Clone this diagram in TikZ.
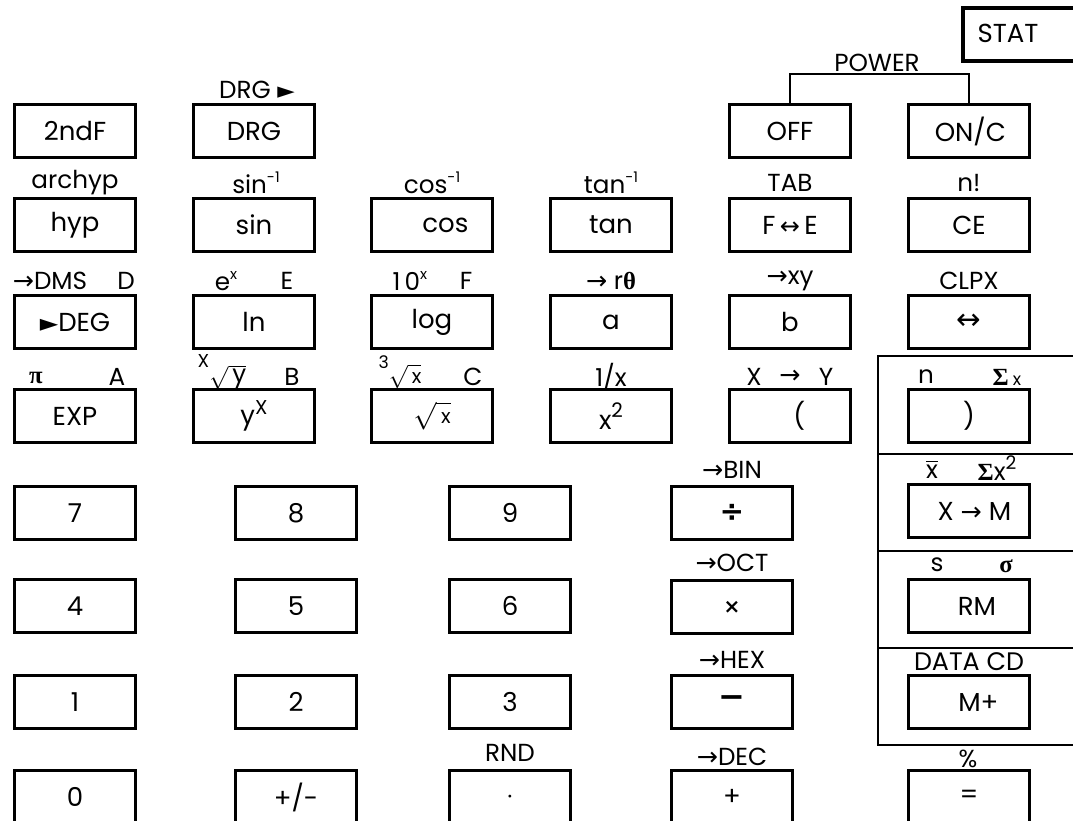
\documentclass[tikz,border=0pt]{standalone}
\usepackage{amsmath}
\usepackage{fontspec}
\setmainfont{Poppins}
\newfontfamily\sym{DejaVu Sans}
\newfontfamily\grk{Liberation Serif}
\newcommand\keyfont{\fontsize{19.5}{22}\selectfont}
\newcommand\labfont{\fontsize{18.5}{21}\selectfont}
\newcommand\supx[1]{\raisebox{0.85ex}{\fontsize{11}{12}\selectfont #1}}
\newcommand\arr{{\sym\fontsize{19}{19}\selectfont →}}
\begin{document}
\begin{tikzpicture}[x=0.75pt,y=-0.75pt,
  keybox/.style={draw,line width=2.4pt,minimum width=90.75pt,minimum height=39.75pt,inner sep=0pt,font=\keyfont},
  lab/.style={inner sep=0pt,font=\labfont},
  thinline/.style={line width=0.8pt},
  panel/.style={line width=1.1pt}]
\useasboundingbox (0,0) rectangle (1073,820);
\clip (0,0) rectangle (1073,820);
% ---- row 0
\node[keybox] (k2ndf) at (75,131) {2ndF};
\node[keybox] (kdrg) at (254,131) {DRG};
\node[keybox] (koff) at (790,131) {OFF};
\node[keybox] (konc) at (969,131) {\hspace*{2pt}ON/C};
\node[lab] (ldrg) at (257,90) {DRG {\sym\fontsize{17}{17}\selectfont ►}};
\node[lab] (lpower) at (877,63) {POWER};
\coordinate (pw) at (878,74);
\draw[thinline] (koff.north) |- (pw) -| (konc.north);
\draw[keybox] (963,8) rectangle (1110,61);
\node[lab,font=\keyfont] (stat) at (1008,33) {STAT};
% ---- row 1
\node[keybox] (khyp) at (75,225) {hyp};
\node[keybox] (ksin) at (254,225) {sin};
\node[keybox] (kcos) at (432,225) {\hspace*{20pt}cos};
\node[keybox] (ktan) at (611,225) {tan};
\node[keybox] (kfe) at (790,225) {F\,{\sym\fontsize{18}{18}\selectfont ↔}\,E};
\node[keybox] (kce) at (969,225) {CE};
\node[lab] (larchyp) at (75,183) {archyp};
\node[lab] (lasin) at (256,183) {sin\supx{-1}};
\node[lab] (lacos) at (432,183) {cos\supx{-1}};
\node[lab] (latan) at (611,183) {tan\supx{-1}};
\node[lab] (ltab) at (790,183) {TAB};
\node[lab] (lfact) at (969,183) {n!};
% ---- row 2
\node[keybox] (kdeg) at (75,322) {{\sym\fontsize{18}{18}\selectfont ►}DEG};
\node[keybox] (kln) at (254,322) {ln};
\node[keybox] (klog) at (432,322) {log};
\node[keybox] (ka) at (611,322) {a};
\node[keybox] (kb) at (790,322) {b};
\node[keybox] (karr) at (969,322) {{\sym\fontsize{22}{22}\selectfont ↔}};
\node[lab] (ldms) at (50,281) {\arr DMS};
\node[lab] (ld) at (126,281) {D};
\node[lab] (lex) at (226,281) {e\supx{x}};
\node[lab] (le) at (287,281) {E};
\node[lab] (ltenx) at (410,281) {1\,0\supx{x}};
\node[lab] (lf) at (466,281) {F};
\node[lab] (lrt) at (611,281) {\arr\ r{\grk\bfseries θ}};
\node[lab] (lxy) at (790,281) {\arr xy};
\node[lab] (lclpx) at (969,281) {CLPX};
% ---- row 3
\node[keybox] (kexp) at (75,416) {EXP};
\node[keybox] (kyx) at (254,416) {y\raisebox{0.7ex}{\fontsize{15}{15}\selectfont X}};
\node[keybox] (ksqrt) at (432,416) {$\sqrt{\,\text{\fontsize{15}{15}\selectfont x}}$};
\node[keybox] (ksq) at (611,416) {x\raisebox{0.8ex}{\fontsize{15}{15}\selectfont 2}};
\node[keybox] (klp) at (790,416) {\hspace*{14pt}(};
\node[keybox] (krp) at (969,416) {)};
\node[lab] (lpi) at (36,378) {{\grk\bfseries π}};
\node[lab] (la) at (117,377) {A};
\node[lab] (lxrt) at (222,372) {\raisebox{1.1ex}{\fontsize{14}{14}\selectfont X}$\sqrt{\,\text{y}}$};
\node[lab] (lb) at (292,377) {B};
\node[lab] (lcrt) at (400,372) {\raisebox{1.1ex}{\fontsize{13}{13}\selectfont 3}$\sqrt{\,\text{\fontsize{15}{15}\selectfont x}}$};
\node[lab] (lc) at (473,377) {C};
\node[lab] (linv) at (611,377) {1/x};
\node[lab] (lxX) at (754,377) {X};
\node[lab] (lxarr) at (790,377) {\arr};
\node[lab] (lxY) at (826,377) {Y};
\node[lab] (ln) at (926,377) {n};
\node[lab] (lsx) at (1007,377) {{\grk\bfseries Σ}\,{\fontsize{13}{14}\selectfont x}};
% ---- row 4
\node[keybox] (k7) at (75,513) {7};
\node[keybox] (k8) at (296,513) {8};
\node[keybox] (k9) at (510,513) {9};
\node[keybox] (kdiv) at (732,513) {{\sym\bfseries\fontsize{22}{22}\selectfont ÷}};
\node[keybox] (kxm) at (969,511) {\hspace*{8pt}X {\sym\fontsize{19}{19}\selectfont →} M};
\node[lab] (lbin) at (732,470) {\arr BIN};
\node[lab] (lmean) at (932,469) {$\overline{\text{x}}$};
\node[lab] (lsx2) at (997,468) {{\grk\bfseries Σ}x\raisebox{0.8ex}{\fontsize{14}{14}\selectfont 2}};
% ---- row 5
\node[keybox] (k4) at (75,606) {4};
\node[keybox] (k5) at (296,606) {5};
\node[keybox] (k6) at (510,606) {6};
\node[keybox] (kmul) at (732,607) {{\sym\fontsize{15}{15}\selectfont\bfseries ×}};
\node[keybox] (krm) at (969,606) {\hspace*{12pt}RM};
\node[lab] (loct) at (732,563) {\arr OCT};
\node[lab] (ls) at (937,565) {s};
\node[lab] (lsig) at (1006,566) {{\grk\bfseries σ}};
% ---- row 6
\node[keybox] (k1) at (75,702) {1};
\node[keybox] (k2) at (296,702) {2};
\node[keybox] (k3) at (510,702) {3};
\node[keybox] (kmin) at (732,702) {{\sym\bfseries\fontsize{24}{24}\selectfont −}};
\node[keybox] (kmp) at (969,702) {\hspace*{14pt}M+};
\node[lab] (lhex) at (732,660) {\arr HEX};
\node[lab,font=\fontsize{19}{21}\selectfont] (ldata) at (969,662) {DATA CD};
% ---- row 7
\node[keybox] (k0) at (75,797) {0};
\node[keybox] (kpm) at (296,797) {+/-};
\node[keybox] (kdot) at (510,797) {$\cdot$};
\node[keybox] (kplus) at (732,797) {+};
\node[keybox] (keq) at (969,797) {=};
\node[lab] (lrnd) at (510,753) {RND};
\node[lab] (ldec) at (732,757) {\arr DEC};
\node[lab] (lpct) at (968,759) {\%};
% ---- stat panel
\draw[panel] (1090,356) -- (878,356) -- (878,745) -- (1090,745);
\draw[panel] (878,454) -- (1090,454);
\draw[panel] (878,551) -- (1090,551);
\draw[panel] (878,648) -- (1090,648);
\end{tikzpicture}
\end{document}
